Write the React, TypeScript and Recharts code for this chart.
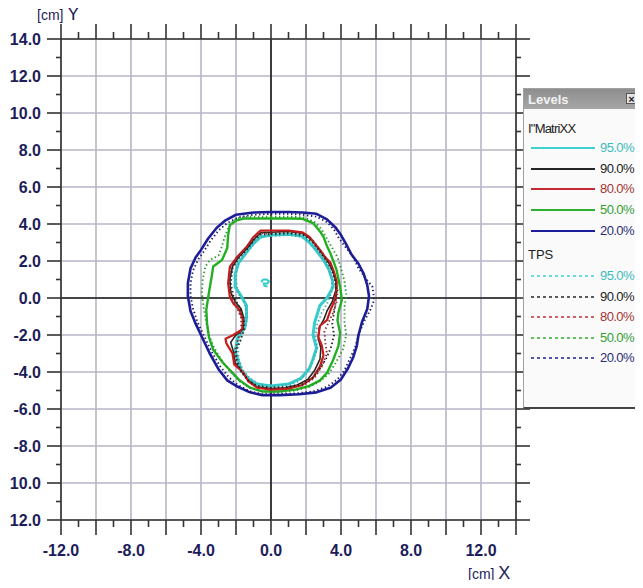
import React from 'react';
import { LineChart, Line, XAxis, YAxis, CartesianGrid, ReferenceLine, Legend } from 'recharts';

type Pt = { x: number; y: number };
const toPts = (arr: number[][]): Pt[] => arr.map(([x, y]) => ({ x, y }));

// axis ticks (cm)
const axisTicksX = [-12, -11, -10, -9, -8, -7, -6, -5, -4, -3, -2, -1, 0, 1, 2, 3, 4, 5, 6, 7, 8, 9, 10, 11, 12, 13, 14];
const axisTicksY = [-12, -11, -10, -9, -8, -7, -6, -5, -4, -3, -2, -1, 0, 1, 2, 3, 4, 5, 6, 7, 8, 9, 10, 11, 12, 13, 14];
const gridX = [-12, -10, -8, -6, -4, -2, 0, 2, 4, 6, 8, 10, 12, 14];
const gridY = [-12, -10, -8, -6, -4, -2, 0, 2, 4, 6, 8, 10, 12, 14];
const xLabelValues = [-12, -8, -4, 0, 4, 8, 12];
const xLabelTexts = ['-12.0', '-8.0', '-4.0', '0.0', '4.0', '8.0', '12.0'];
const yLabelValues = [14, 12, 10, 8, 6, 4, 2, 0, -2, -4, -6, -8, -10, -12];
const yLabelTexts = ['14.0', '12.0', '10.0', '8.0', '6.0', '4.0', '2.0', '0.0', '-2.0', '-4.0', '-6.0', '-8.0', '10.0', '12.0'];

// I'MatriXX measured isodose lines
const matrixx95 = toPts([
  [0, 3.4], [1.0, 3.45], [1.75, 3.35], [2.2, 3.0], [2.6, 2.55], [3.0, 2.05], [3.3, 1.55], [3.5, 1.0], [3.55, 0.6],
  [3.2, 0.0], [2.8, -0.4], [2.5, -1.3], [2.4, -2.0], [2.6, -2.7], [2.4, -3.3], [2.2, -3.8], [1.7, -4.35], [1.0, -4.65],
  [0, -4.75], [-0.8, -4.65], [-1.3, -4.35], [-1.7, -3.9], [-1.9, -3.3], [-2.05, -2.9], [-1.9, -2.15], [-1.5, -1.6],
  [-1.4, -1.1], [-1.4, -0.4], [-1.7, 0.1], [-2.05, 0.6], [-2.05, 1.3], [-1.85, 1.9], [-1.45, 2.4], [-1.05, 2.9],
  [-0.6, 3.3], [0, 3.4],
]);
const matrixx95Island = toPts([
  [-0.55, 0.85], [-0.45, 1.0], [-0.25, 1.0], [-0.12, 0.9], [-0.2, 0.78], [-0.42, 0.78], [-0.38, 0.66], [-0.2, 0.62],
]);
const matrixx90 = toPts([
  [0, 3.55], [1.0, 3.6], [1.8, 3.5], [2.25, 3.2], [2.6, 2.8], [2.95, 2.35], [3.3, 1.9], [3.55, 1.4], [3.7, 0.9],
  [3.7, 0.4], [3.5, -0.2], [3.2, -0.7], [3.0, -1.2], [2.75, -1.6], [2.7, -2.2], [2.85, -2.7], [2.8, -3.3], [2.5, -3.9],
  [2.1, -4.4], [1.5, -4.7], [0.8, -4.85], [0, -4.9], [-0.8, -4.8], [-1.3, -4.45], [-1.7, -3.95], [-2.05, -3.5],
  [-2.15, -2.9], [-2.3, -2.4], [-2.05, -2.05], [-1.6, -1.7], [-1.55, -1.1], [-1.7, -0.6], [-2.05, -0.2], [-2.3, 0.3],
  [-2.35, 1.0], [-2.2, 1.7], [-1.85, 2.2], [-1.35, 2.7], [-0.95, 3.2], [-0.55, 3.55], [0, 3.55],
]);
const matrixx80 = toPts([
  [0, 3.65], [1.0, 3.65], [1.8, 3.55], [2.2, 3.3], [2.5, 2.95], [2.8, 2.6], [3.1, 2.2], [3.4, 1.9], [3.6, 1.4],
  [3.75, 0.9], [3.75, 0.45], [3.65, -0.1], [3.4, -0.65], [3.2, -1.2], [2.8, -1.5], [2.7, -2.1], [2.9, -2.55],
  [3.0, -3.1], [2.8, -3.7], [2.4, -4.3], [1.8, -4.7], [1.0, -4.9], [0, -4.95], [-0.8, -4.85], [-1.3, -4.5],
  [-1.6, -4.0], [-2.1, -3.6], [-2.2, -3.0], [-2.55, -2.45], [-2.6, -2.2], [-2.15, -2.0], [-1.65, -1.7], [-1.6, -1.2],
  [-1.8, -0.65], [-2.15, -0.3], [-2.35, 0.05], [-2.45, 0.8], [-2.35, 1.7], [-1.95, 2.2], [-1.4, 2.75], [-1.0, 3.3],
  [-0.6, 3.65], [0, 3.65],
]);
const matrixx50 = toPts([
  [0, 4.3], [1.0, 4.3], [1.8, 4.28], [2.4, 4.05], [2.8, 3.6], [3.0, 3.3], [3.2, 2.8], [3.4, 2.4], [3.6, 1.9],
  [3.75, 1.5], [3.95, 0.6], [4.05, -0.1], [3.85, -0.8], [3.8, -1.2], [3.95, -1.9], [3.85, -2.6], [3.55, -3.35],
  [3.2, -4.05], [2.8, -4.45], [2.2, -4.75], [1.4, -4.95], [0.5, -5.05], [-0.5, -5.05], [-1.2, -4.85], [-1.8, -4.45],
  [-2.2, -4.05], [-2.75, -3.5], [-3.3, -2.8], [-3.55, -2.1], [-3.65, -1.4], [-3.7, -0.65], [-3.55, 0.27], [-3.4, 1.1],
  [-3.3, 1.7], [-2.8, 2.05], [-2.5, 2.7], [-2.45, 3.4], [-2.35, 3.95], [-1.95, 4.2], [-1.5, 4.3], [0, 4.3],
]);
const matrixx20 = toPts([
  [0, 4.65], [1.0, 4.65], [1.8, 4.62], [2.6, 4.55], [3.2, 4.25], [3.7, 3.8], [4.0, 3.4], [4.3, 2.9], [4.6, 2.35],
  [5.0, 1.85], [5.3, 1.3], [5.5, 0.7], [5.6, 0.1], [5.5, -0.6], [5.2, -1.3], [5.0, -2.0], [4.9, -2.6], [4.7, -3.2],
  [4.4, -3.8], [4.0, -4.4], [3.4, -4.85], [2.6, -5.1], [1.6, -5.2], [0.5, -5.25], [-0.5, -5.25], [-1.2, -5.1],
  [-1.9, -4.8], [-2.5, -4.45], [-3.0, -3.85], [-3.5, -3.0], [-3.9, -2.2], [-4.3, -1.4], [-4.6, -0.7], [-4.75, 0.1],
  [-4.75, 0.8], [-4.6, 1.6], [-4.3, 2.2], [-4.0, 2.6], [-3.6, 3.2], [-3.1, 3.8], [-2.6, 4.2], [-2.0, 4.5],
  [-1.0, 4.62], [0, 4.65],
]);

// TPS calculated isodose lines
const tps95 = toPts([
  [0, 3.35], [1.0, 3.4], [1.8, 3.3], [2.3, 2.95], [2.7, 2.5], [3.05, 2.0], [3.35, 1.5], [3.5, 0.9], [3.45, 0.3],
  [3.2, -0.3], [2.9, -0.8], [2.65, -1.4], [2.55, -2.0], [2.65, -2.7], [2.4, -3.4], [2.1, -4.0], [1.6, -4.5],
  [0.9, -4.7], [0, -4.75], [-0.7, -4.65], [-1.2, -4.35], [-1.6, -3.9], [-1.85, -3.3], [-1.9, -2.7], [-1.7, -2.15],
  [-1.45, -1.6], [-1.35, -1.0], [-1.5, -0.3], [-1.9, 0.3], [-2.0, 1.0], [-1.95, 1.7], [-1.65, 2.2], [-1.2, 2.65],
  [-0.8, 3.1], [-0.4, 3.35], [0, 3.35],
]);
const tps90 = toPts([
  [0, 3.45], [1.0, 3.5], [1.85, 3.4], [2.35, 3.05], [2.75, 2.55], [3.1, 2.1], [3.45, 1.6], [3.65, 1.0], [3.75, 0.4],
  [3.7, -0.2], [3.6, -0.8], [3.5, -1.4], [3.6, -2.0], [3.45, -2.6], [3.2, -3.2], [2.8, -3.8], [2.4, -4.3],
  [1.8, -4.65], [1.0, -4.8], [0, -4.85], [-0.8, -4.75], [-1.3, -4.45], [-1.7, -3.95], [-1.95, -3.4], [-2.0, -2.8],
  [-1.75, -2.3], [-1.55, -1.7], [-1.55, -1.1], [-1.8, -0.5], [-2.15, 0.1], [-2.3, 0.8], [-2.2, 1.6], [-1.85, 2.15],
  [-1.35, 2.65], [-0.95, 3.15], [-0.55, 3.45], [0, 3.45],
]);
const tps80 = toPts([
  [0, 3.5], [1.0, 3.55], [1.9, 3.45], [2.4, 3.1], [2.8, 2.6], [3.2, 2.1], [3.5, 1.6], [3.7, 1.0], [3.8, 0.4],
  [3.75, -0.2], [3.55, -0.8], [3.3, -1.3], [3.05, -1.8], [3.1, -2.4], [3.2, -3.0], [2.9, -3.7], [2.5, -4.3],
  [1.9, -4.7], [1.0, -4.85], [0, -4.9], [-0.8, -4.8], [-1.3, -4.5], [-1.7, -4.0], [-2.0, -3.4], [-2.05, -2.8],
  [-1.9, -2.3], [-1.7, -1.7], [-1.7, -1.1], [-1.95, -0.5], [-2.25, 0.1], [-2.4, 0.8], [-2.3, 1.6], [-1.95, 2.2],
  [-1.45, 2.7], [-1.0, 3.2], [-0.6, 3.5], [0, 3.5],
]);
const tps50 = toPts([
  [0, 4.4], [1.0, 4.4], [1.9, 4.35], [2.5, 4.1], [2.9, 3.7], [3.2, 3.2], [3.5, 2.7], [3.8, 2.2], [4.0, 1.6],
  [4.2, 0.9], [4.3, 0.2], [4.2, -0.5], [4.2, -1.3], [4.3, -2.0], [4.1, -2.8], [3.7, -3.5], [3.3, -4.1], [2.8, -4.5],
  [2.2, -4.8], [1.4, -5.0], [0.5, -5.1], [-0.5, -5.05], [-1.2, -4.85], [-1.8, -4.5], [-2.3, -4.0], [-2.8, -3.4],
  [-3.25, -2.7], [-3.55, -2.0], [-3.7, -1.3], [-3.85, -0.5], [-3.95, 0.3], [-3.9, 1.0], [-3.75, 1.7], [-3.5, 2.05],
  [-3.0, 2.3], [-2.8, 2.8], [-2.65, 3.3], [-2.4, 3.9], [-2.0, 4.3], [-1.4, 4.4], [0, 4.4],
]);
const tps20 = toPts([
  [0, 4.55], [1.0, 4.55], [1.8, 4.5], [2.6, 4.4], [3.2, 4.1], [3.6, 3.7], [3.9, 3.2], [4.3, 2.7], [4.7, 2.2],
  [5.0, 1.6], [5.3, 1.2], [5.8, 0.6], [5.9, -0.1], [5.7, -0.6], [5.3, -1.3], [5.0, -2.0], [4.8, -2.7], [4.5, -3.3],
  [4.2, -3.9], [3.8, -4.4], [3.2, -4.8], [2.4, -5.05], [1.5, -5.15], [0.5, -5.2], [-0.5, -5.2], [-1.2, -5.05],
  [-1.9, -4.7], [-2.4, -4.3], [-2.9, -3.7], [-3.4, -2.9], [-3.8, -2.1], [-4.2, -1.3], [-4.45, -0.6], [-4.6, 0.1],
  [-4.6, 0.8], [-4.45, 1.5], [-4.15, 2.1], [-3.85, 2.5], [-3.45, 3.1], [-3.0, 3.65], [-2.5, 4.05], [-1.9, 4.35],
  [-1.0, 4.5], [0, 4.55],
]);

const levelLabels = ['95.0%', '90.0%', '80.0%', '50.0%', '20.0%'];
const levelLineColors = ['#3fcfcf', '#262626', '#c42a36', '#2fae2f', '#1d1d9a'];
const levelTextColors = ['#3cbcbc', '#222222', '#a33434', '#33a033', '#2c2c78'];

const solidSeries = [
  { key: 'm20', data: matrixx20, color: '#1d1d9a', width: 2.6 },
  { key: 'm50', data: matrixx50, color: '#22b022', width: 2.4 },
  { key: 'm95', data: matrixx95, color: '#36cccc', width: 3 },
  { key: 'm95i', data: matrixx95Island, color: '#36cccc', width: 2 },
  { key: 'm90', data: matrixx90, color: '#262626', width: 1.6 },
  { key: 'm80', data: matrixx80, color: '#c81c1c', width: 2.2 },
];
const dottedSeries = [
  { key: 't20', data: tps20, color: '#1d1d70' },
  { key: 't50', data: tps50, color: '#2a9a2a' },
  { key: 't95', data: tps95, color: '#3fb0b0' },
  { key: 't80', data: tps80, color: '#8a2a2a' },
  { key: 't90', data: tps90, color: '#222222' },
];

const labelFont = { fontFamily: 'Liberation Sans, Arial, sans-serif', fontWeight: 700, fontSize: 16, fill: '#1d1d5a' };
const tickStroke = '#333';

const BottomTick = ({ x, y, payload }: any) => {
  const v = payload.value;
  const len = v % 2 === 0 ? 15 : 7;
  const idx = xLabelValues.indexOf(v);
  return (
    <g>
      <line x1={x} x2={x} y1={y} y2={y + len} stroke={tickStroke} strokeWidth={1.6} />
      {idx >= 0 && (
        <text x={x} y={y + 36} textAnchor="middle" {...labelFont}>{xLabelTexts[idx]}</text>
      )}
    </g>
  );
};

const TopTick = ({ x, y, payload }: any) => {
  const len = payload.value % 2 === 0 ? 15 : 7;
  return <line x1={x} x2={x} y1={y} y2={y - len} stroke={tickStroke} strokeWidth={1.6} />;
};

const LeftTick = ({ x, y, payload }: any) => {
  const v = payload.value;
  const len = v % 2 === 0 ? 14 : 5;
  const idx = yLabelValues.indexOf(v);
  return (
    <g>
      <line x1={x} x2={x - len} y1={y} y2={y} stroke={tickStroke} strokeWidth={1.6} />
      {idx >= 0 && (
        <text x={x - 20} y={y + 6} textAnchor="end" {...labelFont}>{yLabelTexts[idx]}</text>
      )}
    </g>
  );
};

const RightTick = ({ x, y, payload }: any) => {
  const len = payload.value % 2 === 0 ? 14 : 5;
  return <line x1={x} x2={x + len} y1={y} y2={y} stroke={tickStroke} strokeWidth={1.6} />;
};

const LevelsPanel = () => {
  const row = (label: string, i: number, dashed: boolean, top: number) => (
    <div key={label + dashed} style={{ position: 'absolute', left: 0, top, width: 117, height: 18 }}>
      <svg width={70} height={18} style={{ position: 'absolute', left: 5, top: 0 }}>
        <line x1={2} x2={66} y1={9} y2={9} stroke={levelLineColors[i]} strokeWidth={dashed ? 1.6 : 2.2}
          strokeDasharray={dashed ? '3 3' : undefined} />
      </svg>
      <span style={{ position: 'absolute', left: 76, top: 1, fontSize: 13, letterSpacing: -0.6, color: levelTextColors[i] }}>
        {label}
      </span>
    </div>
  );
  return (
    <div style={{
      position: 'relative', width: 118, height: 321, background: '#fafafa', border: '1px solid #a0a0a0',
      borderBottom: '2px solid #444', boxSizing: 'border-box', fontFamily: 'Liberation Sans, Arial, sans-serif',
    }}>
      <div style={{
        position: 'absolute', left: 0, top: 0, width: 116, height: 20,
        background: 'linear-gradient(#8e8e8e, #a6a6a6)', color: '#f2f2f2', fontWeight: 700, fontSize: 13,
      }}>
        <span style={{ position: 'absolute', left: 4, top: 3 }}>Levels</span>
        <div style={{
          position: 'absolute', right: 3, top: 4, width: 11, height: 11, background: '#e4e4e4',
          border: '1px solid #555', fontSize: 11, lineHeight: '10px', textAlign: 'center', color: '#222', boxSizing: 'border-box',
        }}>×</div>
      </div>
      <div style={{ position: 'absolute', left: 4, top: 32, fontSize: 13, color: '#222', letterSpacing: -0.8 }}>I"MatriXX</div>
      {levelLabels.map((l, i) => row(l, i, false, 50 + i * 20.7))}
      <div style={{ position: 'absolute', left: 4, top: 158, fontSize: 13, color: '#222' }}>TPS</div>
      {levelLabels.map((l, i) => row(l, i, true, 178 + i * 20.6))}
    </div>
  );
};

export default function App() {
  return (
    <div style={{ position: 'relative', width: 643, height: 588, margin: -8, background: '#fff' }}>
      <LineChart width={643} height={588} margin={{ top: 0, right: 0, bottom: 0, left: 0 }}>
        <CartesianGrid stroke="#b6b6c6" strokeWidth={1.6} verticalValues={gridX} horizontalValues={gridY} />
        <XAxis dataKey="x" type="number" domain={[-12, 14]} ticks={axisTicksX} interval={0} allowDataOverflow
          height={68} tickSize={0} tickMargin={0} tickLine={false} axisLine={{ stroke: tickStroke, strokeWidth: 1.6 }}
          tick={(p: any) => <BottomTick {...p} />} />
        <XAxis xAxisId="top" orientation="top" dataKey="x" type="number" domain={[-12, 14]} ticks={axisTicksX}
          interval={0} allowDataOverflow height={39} tickSize={0} tickMargin={0} tickLine={false}
          axisLine={{ stroke: tickStroke, strokeWidth: 1.6 }} tick={(p: any) => <TopTick {...p} />} />
        <YAxis type="number" domain={[-12, 14]} ticks={axisTicksY} interval={0} allowDataOverflow width={61}
          tickSize={0} tickMargin={0} tickLine={false} axisLine={{ stroke: tickStroke, strokeWidth: 1.6 }}
          tick={(p: any) => <LeftTick {...p} />} />
        <YAxis yAxisId="right" orientation="right" type="number" domain={[-12, 14]} ticks={axisTicksY} interval={0}
          allowDataOverflow width={127} tickSize={0} tickMargin={0} tickLine={false}
          axisLine={{ stroke: tickStroke, strokeWidth: 1.6 }} tick={(p: any) => <RightTick {...p} />} />
        <ReferenceLine x={0} stroke="#1a1a1a" strokeWidth={1.6} />
        <ReferenceLine y={0} stroke="#1a1a1a" strokeWidth={1.6} />
        {solidSeries.map((s) => (
          <Line key={s.key} data={s.data} dataKey="y" type="linear" stroke={s.color} strokeWidth={s.width}
            dot={false} activeDot={false} isAnimationActive={false} strokeLinejoin="round" />
        ))}
        {dottedSeries.map((s) => (
          <Line key={s.key} data={s.data} dataKey="y" type="linear" stroke={s.color} strokeWidth={1.9}
            strokeDasharray="1.4 2.6" dot={false} activeDot={false} isAnimationActive={false} />
        ))}
        <Legend layout="vertical" align="center" verticalAlign="middle" content={() => <LevelsPanel />}
          wrapperStyle={{ position: 'absolute', left: 523, top: 88, width: 118, height: 321 }} />
      </LineChart>
      <div style={{ position: 'absolute', left: 37, top: 4, color: '#1d1d5a', fontFamily: 'Liberation Sans, Arial, sans-serif', fontSize: 14 }}>
        [cm] <span style={{ fontSize: 18 }}>Y</span>
      </div>
      <div style={{ position: 'absolute', left: 468, top: 563, color: '#1d1d5a', fontFamily: 'Liberation Sans, Arial, sans-serif', fontSize: 14 }}>
        [cm] <span style={{ fontSize: 18 }}>X</span>
      </div>
    </div>
  );
}
